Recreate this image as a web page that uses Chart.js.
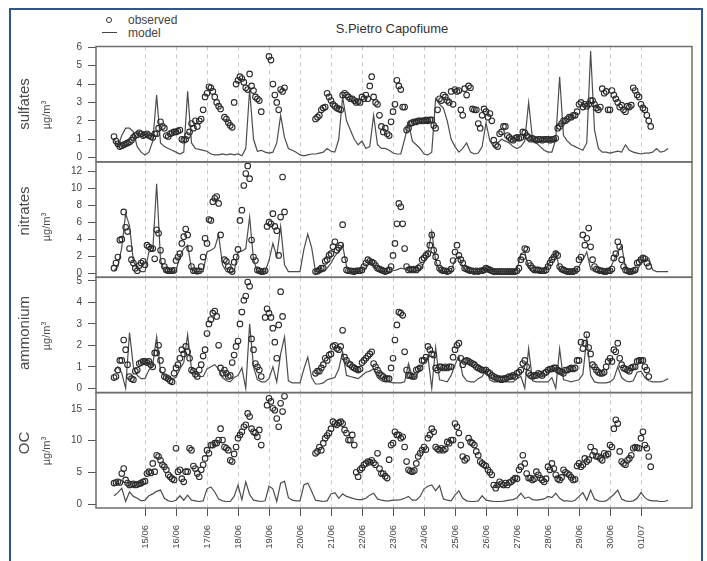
<!DOCTYPE html>
<html>
<head>
<meta charset="utf-8">
<script src="https://cdn.jsdelivr.net/npm/chart.js@4.4.0/dist/chart.umd.min.js"></script>
<style>
  body { margin: 0; width: 707px; height: 561px; overflow: hidden; position: relative; background: #fff;
         font-family: "Liberation Sans", Arial, sans-serif; color: #444; }
  canvas { position: absolute; left: 0; }
  .frame { position: absolute; left: 9px; top: 8px; width: 694px; height: 700px; box-sizing: border-box;
           border: 2px solid #2e5591; }
  .txt { position: absolute; white-space: nowrap; transform: translate(-50%, -50%); }
  .rot { position: absolute; white-space: nowrap; transform: translate(-50%, -50%) rotate(-90deg); }
  .name { font-size: 15px; color: #4a4a4a; }
  .unit { font-size: 11px; color: #4a4a4a; }
  .unit sup { font-size: 7px; }
</style>
</head>
<body>
<div class="frame"></div>
<div class="txt" style="left:392px;top:28px;font-size:13px;color:#333">S.Pietro Capofiume</div>
<div style="position:absolute;left:106px;top:17px;width:6px;height:6px;box-sizing:border-box;border:1px solid #333;border-radius:50%"></div>
<div style="position:absolute;left:102px;top:32px;width:15px;border-top:1.3px solid #444"></div>
<div style="position:absolute;left:128px;top:13px;font-size:12px">observed</div>
<div style="position:absolute;left:128px;top:26px;font-size:12px">model</div>

<script>
// one row per day; observations every 1.5 h, model every 3 h
const days = ['14/06', '15/06', '16/06', '17/06', '18/06', '19/06', '20/06', '21/06', '22/06',
              '23/06', '24/06', '25/06', '26/06', '27/06', '28/06', '29/06', '30/06', '01/07'];
const tickDays = days.slice(1);
const obsHours = [0, 1.5, 3, 4.5, 6, 7.5, 9, 10.5, 12, 13.5, 15, 16.5, 18, 19.5, 21, 22.5];
const modHours = [0, 3, 6, 9, 12, 15, 18, 21];
const _ = null;

const sulfObs = [
  [1.15, 0.9, 0.75, 0.6, 0.65, 0.7, 0.75, 0.8, 0.85, 0.95, 1.1, 1.2, 1.25, 1.35, 1.3, 1.2],
  [1.25, 1.3, 1.2, 1.15, 1.1, 1.3, 1.3, 1.6, 1.95, 1.7, 1.6, 1.2, 1.15, 1.3, 1.35, 1.4],
  [1.4, 1.45, 1.5, 1.0, 0.95, 1.0, 1.2, 1.4, 1.85, 1.6, 2.0, 1.7, 2.0, 2.1, 2.6, 3.3],
  [3.5, 3.85, 3.8, 3.6, 3.3, 3.0, 2.8, 2.65, _, 2.2, 2.1, 1.9, 1.75, 1.65, 3.0, 4.0],
  [4.2, 4.4, 4.3, 4.1, 3.8, 3.7, 4.55, 3.9, 3.65, 3.3, 3.2, 3.1, 2.5, _, _, _],
  [5.5, 5.3, 4.0, 3.4, 3.0, 2.6, 3.7, 3.6, 3.8, _, _, _, _, _, _, _],
  [_, _, _, _, _, _, _, _, 2.1, 2.2, 2.3, 2.6, 2.7, 2.75, 3.5, 3.3],
  [3.1, 2.9, 2.8, 2.7, 2.65, 2.6, 3.4, 3.5, 3.4, 3.3, 3.2, 3.2, 3.1, 3.0, 3.05, 3.0],
  [3.3, 3.2, 3.4, 3.2, 3.9, 4.4, 3.3, 3.0, 2.9, 2.3, 1.7, 1.4, 1.6, 1.3, 1.2, 1.95],
  [2.5, 2.9, 4.2, 3.9, 3.7, 2.75, 2.75, 1.5, 1.6, 1.85, 1.9, 1.95, 1.95, 2.0, 2.0, 2.0],
  [2.0, 2.05, 2.0, 2.05, 2.05, 1.75, 1.6, 2.6, 3.2, 3.1, 3.4, 3.3, 3.1, 3.0, 3.6, 2.9],
  [3.7, 3.6, 3.65, 2.6, 2.3, 3.75, 3.4, 3.9, 3.8, 2.65, 2.6, 2.6, 1.85, 1.6, 2.3, 2.65],
  [2.5, 2.2, 2.4, 2.0, 0.95, 0.7, 0.6, 1.3, 1.4, 1.7, 1.7, 1.2, 1.1, 1.0, 0.95, 1.05],
  [1.1, 1.05, 1.1, 1.4, 1.35, 1.2, 1.1, 1.0, 1.05, 1.0, 0.95, 1.0, 1.0, 0.95, 1.0, 1.0],
  [1.0, 0.95, 1.0, 1.0, 1.05, 1.6, 1.7, 1.85, 2.0, 2.0, 2.1, 2.2, 2.2, 2.3, 2.3, 2.5],
  [2.9, 3.0, 2.75, 2.9, 2.8, 2.9, 3.1, 3.1, 2.9, 2.7, 2.6, 2.75, 3.75, 3.5, 3.6, 2.6],
  [2.6, 3.65, 3.4, 3.2, 3.0, 2.75, 2.85, 2.6, 2.5, 2.8, 2.75, 2.85, 3.8, 3.65, 3.4, 3.3],
  [2.9, 2.7, 2.6, 2.3, 2.0, 1.7, _, _, _, _, _, _, _, _, _, _]
];
const sulfMod = [
  [1.0, 0.6, 1.2, 1.6, 1.6, 1.4, 0.6, 0.3],
  [0.15, 0.3, 0.9, 3.4, 0.8, 0.6, 0.5, 0.4],
  [0.3, 0.2, 0.3, 3.6, 0.8, 0.5, 0.45, 0.4],
  [0.35, 0.2, 0.15, 0.15, 0.2, 0.15, 0.2, 0.15],
  [0.2, 0.1, 0.5, 3.7, 1.0, 0.35, 0.4, 0.3],
  [0.25, 0.3, 0.8, 2.3, 1.1, 0.5, 0.4, 0.3],
  [0.15, 0.1, 0.15, 0.2, 0.2, 0.25, 0.3, 0.5],
  [0.35, 0.3, 1.0, 3.3, 2.0, 1.5, 1.0, 0.7],
  [0.9, 0.5, 0.6, 2.3, 0.7, 0.5, 0.5, 0.4],
  [0.25, 0.2, 0.2, 1.0, 1.9, 0.9, 0.7, 0.5],
  [0.2, 0.15, 0.3, 3.2, 2.9, 2.7, 2.0, 1.0],
  [0.6, 0.3, 0.5, 0.8, 0.3, 0.2, 0.25, 0.6],
  [1.9, 0.9, 0.6, 0.8, 1.0, 0.9, 0.8, 0.6],
  [0.5, 0.6, 0.9, 3.0, 1.0, 0.8, 0.6, 0.4],
  [0.3, 0.3, 1.0, 4.4, 1.2, 0.9, 0.7, 0.6],
  [0.5, 0.4, 0.8, 5.8, 1.5, 0.5, 0.3, 0.3],
  [0.25, 0.3, 0.35, 0.3, 0.7, 0.4, 0.3, 0.25],
  [0.2, 0.25, 0.25, 0.3, 0.5, 0.3, 0.35, 0.5]
];

const nitrObs = [
  [0.6, 1.2, 1.9, 3.9, 4.0, 7.2, 5.4, 4.9, 2.9, 1.6, 1.2, 0.6, 0.3, 0.9, 1.2, 1.4],
  [1.0, 3.3, 3.1, 2.9, 2.9, 1.7, 5.1, 4.7, 2.7, 1.4, 0.8, 0.4, 0.3, 0.3, 0.3, 0.35],
  [1.5, 1.9, 2.3, 3.5, 4.3, 5.2, 4.5, 2.9, 0.8, 0.3, 0.3, 0.25, 0.3, 0.8, 1.9, 4.1],
  [3.5, 6.3, 6.2, 8.4, 8.8, 9.0, 8.2, 4.5, _, 1.6, 1.4, 0.8, 0.4, 0.2, 1.3, 1.9],
  [2.8, 6.2, 7.4, 10.3, 11.7, 12.6, 11.1, 3.9, 1.9, 1.5, 0.4, 0.3, 0.2, 0.2, 0.3, 5.5],
  [6.0, 5.8, 7.0, 5.5, 5.0, 2.1, 6.6, 11.3, 7.2, _, _, _, _, _, _, _],
  [_, _, _, _, _, _, _, _, 0.2, 0.25, 0.4, 0.6, 0.6, 1.4, 1.6, 2.1],
  [2.3, 3.1, 3.7, 2.7, 3.0, 3.3, 5.7, 1.6, 0.4, 0.3, 0.3, 0.25, 0.2, 0.3, 0.3, 0.3],
  [0.4, 0.8, 1.2, 1.6, 1.4, 1.3, 1.2, 0.9, 0.6, 0.5, 0.4, 0.3, 0.2, 0.3, 0.4, 0.8],
  [2.1, 3.5, 5.8, 8.2, 7.8, 5.8, 2.9, 0.8, 0.4, 0.5, 0.4, 0.5, 0.4, 0.6, 0.8, 1.6],
  [1.8, 2.1, 2.3, 3.3, 4.5, 2.7, 1.95, 1.2, 0.6, 0.4, 0.3, 0.3, 0.2, 0.3, 0.5, 1.5],
  [2.5, 3.3, 2.1, 1.6, 1.2, 0.6, 0.5, 0.4, 0.3, 0.3, 0.2, 0.3, 0.2, 0.3, 0.3, 0.4],
  [0.6, 0.5, 0.4, 0.3, 0.2, 0.2, 0.2, 0.2, 0.2, 0.2, 0.2, 0.2, 0.2, 0.2, 0.2, 0.2],
  [0.3, 0.6, 1.6, 1.9, 2.9, 2.8, 1.2, 0.9, 0.6, 0.4, 0.4, 0.4, 0.3, 0.3, 0.3, 0.4],
  [0.8, 1.2, 1.6, 1.9, 2.3, 2.1, 0.8, 0.5, 0.4, 0.3, 0.2, 0.2, 0.2, 0.2, 0.3, 0.5],
  [1.6, 1.9, 4.5, 3.3, 4.1, 5.3, 3.1, 1.6, 0.8, 0.5, 0.4, 0.3, 0.3, 0.2, 0.2, 0.3],
  [0.3, 0.5, 1.8, 2.3, 3.7, 3.1, 1.6, 0.8, 0.4, 0.3, 0.2, 0.2, 0.3, 0.4, 1.2, 1.3],
  [1.6, 1.8, 1.7, 1.2, 0.8, _, _, _, _, _, _, _, _, _, _, _]
];
const nitrMod = [
  [0.3, 0.8, 3.0, 7.0, 5.6, 1.4, 0.5, 0.2],
  [0.2, 2.5, 2.6, 10.5, 1.6, 0.2, 0.2, 0.2],
  [0.3, 2.0, 2.9, 3.3, 0.5, 0.2, 0.2, 0.2],
  [2.5, 2.7, 3.0, 4.5, 1.0, 0.2, 0.2, 0.2],
  [2.5, 2.6, 2.9, 6.6, 1.6, 0.2, 0.2, 0.2],
  [1.5, 3.5, 2.0, 5.5, 1.0, 0.2, 0.2, 0.2],
  [0.2, 2.8, 4.6, 3.0, 0.2, 0.2, 0.2, 0.6],
  [1.2, 2.0, 2.6, 3.3, 0.8, 0.2, 0.2, 0.2],
  [0.3, 0.6, 1.3, 1.0, 0.3, 0.2, 0.2, 0.2],
  [0.3, 0.4, 0.6, 0.5, 0.3, 0.2, 0.3, 0.5],
  [1.2, 2.4, 4.9, 1.5, 0.3, 0.2, 0.2, 0.3],
  [1.6, 2.0, 0.8, 0.2, 0.2, 0.2, 0.2, 0.2],
  [0.5, 0.3, 0.2, 0.2, 0.2, 0.2, 0.2, 0.2],
  [0.5, 2.3, 2.5, 0.6, 0.2, 0.2, 0.2, 0.2],
  [1.0, 1.8, 2.6, 0.4, 0.2, 0.2, 0.2, 0.2],
  [0.8, 1.6, 2.5, 0.5, 0.2, 0.2, 0.2, 0.3],
  [0.6, 1.5, 2.5, 3.3, 0.6, 0.2, 0.2, 0.3],
  [1.2, 1.6, 1.8, 0.4, 0.2, 0.2, 0.2, 0.2]
];

const ammObs = [
  [0.5, 0.55, 0.85, 1.3, 1.3, 2.25, 1.8, 1.1, 0.55, 0.45, 0.4, 0.8, 0.85, 1.15, 1.2, 1.25],
  [1.25, 1.2, 1.25, 1.1, 1.0, 1.65, 1.65, 2.0, 1.3, 0.85, 0.55, 0.5, 0.45, 0.35, 0.3, 0.7],
  [0.95, 1.1, 1.4, 1.8, 1.6, 1.95, 1.7, 1.4, 0.85, 0.8, 0.65, 0.55, 0.85, 1.1, 1.5, 1.8],
  [2.55, 3.0, 3.2, 3.5, 3.6, 3.35, 2.0, 0.95, 0.7, 0.85, 0.7, 0.55, 0.6, 1.2, 1.55, 1.95],
  [2.2, 3.0, 3.55, 4.1, 4.3, 4.95, 4.75, 2.3, 1.8, 1.15, 1.0, 0.85, 0.55, _, 3.3, 3.7],
  [3.5, 3.3, 2.8, 2.15, 1.4, 2.95, 4.5, 3.35, _, _, _, _, _, _, _, _],
  [_, _, _, _, _, _, _, _, 0.7, 0.8, 0.8, 0.95, 1.1, 1.4, 1.3, 1.55],
  [1.6, 1.95, 2.0, 1.85, 1.8, 1.95, 2.7, 1.45, 1.3, 1.15, 1.1, 1.0, 0.95, 0.9, 0.85, 0.9],
  [1.2, 1.3, 1.4, 1.5, 1.6, 1.7, 1.15, 1.0, 0.85, 0.7, 0.6, 0.55, 0.45, 0.45, 0.45, 0.95],
  [1.4, 2.25, 2.95, 3.55, 3.5, 3.4, 1.7, 0.85, 0.6, 0.6, 0.55, 0.55, 0.85, 0.9, 0.95, 1.3],
  [1.3, 1.45, 1.95, 1.8, 1.6, 1.55, 0.95, 0.85, 1.0, 1.0, 0.95, 1.0, 0.95, 1.0, 1.0, 1.45],
  [1.8, 2.0, 2.1, 1.4, 1.1, 1.25, 1.3, 1.25, 1.2, 1.15, 1.1, 1.0, 0.95, 0.9, 0.85, 0.85],
  [0.85, 0.75, 0.7, 0.6, 0.55, 0.5, 0.45, 0.45, 0.4, 0.45, 0.45, 0.5, 0.55, 0.55, 0.6, 0.55],
  [0.7, 0.75, 0.85, 1.15, 1.3, 1.0, 0.7, 0.6, 0.55, 0.6, 0.6, 0.7, 0.65, 0.6, 0.7, 0.75],
  [0.85, 0.9, 0.9, 0.95, 0.95, 0.85, 0.8, 0.75, 0.7, 0.85, 0.85, 0.9, 0.95, 0.9, 0.95, 1.3],
  [1.3, 2.15, 1.85, 2.1, 2.5, 1.9, 1.6, 1.1, 1.0, 0.85, 0.75, 0.7, 0.7, 0.75, 1.0, 1.25],
  [1.4, 1.25, 1.8, 1.7, 2.1, 1.4, 1.1, 0.95, 0.9, 0.85, 0.8, 0.95, 1.0, 1.0, 1.25, 1.3],
  [1.3, 1.3, 1.0, 0.85, 0.55, _, _, _, _, _, _, _, _, _, _, _]
];
const ammMod = [
  [0.8, 1.0, 0.7, 0.0, 2.6, 1.0, 0.6, 0.45],
  [0.45, 0.85, 1.1, 2.4, 0.8, 0.6, 0.5, 0.45],
  [0.5, 0.9, 1.2, 2.5, 0.9, 0.7, 0.55, 0.55],
  [0.9, 1.0, 1.1, 0.9, 0.5, 0.35, 0.3, 0.5],
  [0.6, 0.95, 0.0, 3.0, 1.0, 0.4, 0.3, 0.3],
  [0.45, 1.0, 0.3, 1.6, 2.4, 0.35, 0.25, 0.25],
  [0.25, 0.9, 1.45, 0.5, 0.2, 0.2, 0.25, 0.4],
  [0.45, 0.5, 0.9, 1.7, 0.6, 0.55, 0.5, 0.45],
  [0.6, 0.75, 0.8, 0.9, 0.5, 0.35, 0.3, 0.3],
  [0.25, 0.25, 0.25, 0.3, 1.15, 0.5, 0.55, 0.95],
  [1.15, 1.5, 0.0, 1.9, 0.4, 0.35, 0.3, 0.6],
  [1.1, 1.5, 0.6, 0.35, 0.3, 0.3, 0.45, 0.55],
  [0.85, 0.4, 0.3, 0.3, 0.3, 0.3, 0.3, 0.3],
  [0.45, 0.55, 0.0, 1.85, 0.35, 0.3, 0.3, 0.3],
  [0.3, 0.5, 0.0, 1.85, 0.4, 0.35, 0.3, 0.35],
  [0.4, 0.65, 2.35, 0.6, 0.3, 0.25, 0.25, 0.25],
  [0.3, 0.45, 1.0, 0.5, 0.35, 0.3, 0.35, 0.75],
  [0.8, 0.5, 0.35, 0.3, 0.3, 0.3, 0.35, 0.45]
];

const ocObs = [
  [3.3, 3.4, 3.5, 3.4, 4.8, 5.6, 3.8, 3.3, 3.0, 3.1, 3.2, 3.0, 3.1, 3.2, 3.3, 3.5],
  [3.6, 4.8, 5.1, 4.9, 6.4, 5.1, 7.7, 7.5, 6.9, 6.2, 5.9, 5.4, 4.6, 4.3, 4.0, 3.8],
  [8.8, 5.1, 5.4, 4.0, 3.5, 5.1, 5.1, 8.8, 8.5, 6.0, 5.6, 4.8, 4.3, 5.4, 6.2, 7.2],
  [8.5, 8.0, 9.3, 9.3, 9.6, 9.6, 10.1, 11.9, 10.1, 9.0, 8.8, 8.5, 6.9, 6.7, 7.9, 9.0],
  [10.4, 10.9, 11.4, 12.2, 12.5, 14.3, 13.8, 11.9, 11.4, 11.2, 10.6, 11.7, 9.3, _, _, 15.6],
  [16.7, 16.2, 15.1, 14.8, 13.5, 12.2, 15.9, 14.6, 17.0, _, _, _, _, _, _, _],
  [_, _, _, _, _, _, _, _, 8.0, 8.3, 9.0, 8.5, 9.6, 10.4, 10.8, 11.2],
  [11.9, 13.0, 12.7, 12.5, 12.8, 13.0, 12.7, 11.7, 11.2, 10.1, 10.1, 10.9, 9.3, 5.0, 4.3, 5.4],
  [5.7, 6.2, 6.4, 6.7, 6.6, 6.9, 6.5, 6.2, 8.0, 5.6, 4.8, 4.8, 4.4, 4.1, 7.0, 9.3],
  [9.6, 11.4, 10.9, 10.9, 10.4, 10.6, 9.0, 6.7, 5.4, 5.2, 5.1, 5.3, 6.4, 7.5, 8.0, 8.5],
  [9.0, 8.6, 10.4, 10.9, 11.9, 11.4, 9.0, 8.7, 8.5, 8.8, 8.5, 8.7, 9.8, 9.6, 10.1, 10.1],
  [12.7, 12.2, 11.2, 9.3, 7.5, 6.9, 7.2, 10.4, 9.8, 9.6, 9.3, 8.3, 7.7, 6.7, 6.4, 6.2],
  [6.0, 5.4, 5.0, 4.6, 3.0, 2.5, 3.0, 3.5, 3.2, 3.0, 3.3, 3.0, 3.4, 3.5, 3.8, 4.1],
  [4.0, 5.4, 5.9, 7.7, 6.4, 4.8, 4.1, 4.1, 3.8, 4.0, 5.1, 4.6, 4.1, 3.8, 3.5, 4.0],
  [5.9, 5.4, 6.4, 5.6, 4.6, 4.0, 3.8, 4.2, 5.4, 5.0, 4.8, 4.6, 4.2, 3.8, 3.9, 6.0],
  [6.4, 5.9, 6.2, 7.2, 6.7, 7.0, 9.0, 7.7, 8.3, 7.5, 7.5, 7.2, 6.9, 8.0, 7.7, 7.9],
  [9.3, 9.0, 11.9, 13.3, 12.7, 8.3, 6.7, 6.4, 6.2, 6.9, 7.2, 7.7, 8.8, 9.0, 8.9, 8.8],
  [10.4, 11.4, 9.3, 8.8, 7.5, 5.9, _, _, _, _, _, _, _, _, _, _]
];
const ocMod = [
  [1.3, 1.8, 2.5, 0.4, 1.9, 1.2, 0.9, 0.5],
  [0.6, 1.3, 1.6, 2.0, 2.2, 0.9, 0.5, 0.4],
  [0.6, 1.3, 0.6, 1.4, 0.6, 0.5, 0.4, 0.5],
  [2.4, 2.7, 1.9, 0.8, 0.5, 0.4, 0.4, 1.2],
  [3.0, 0.7, 3.5, 1.5, 0.6, 0.5, 0.4, 0.5],
  [2.8, 2.4, 0.4, 3.3, 3.6, 1.0, 0.6, 0.5],
  [0.5, 3.0, 3.3, 2.0, 0.6, 0.5, 0.4, 0.5],
  [1.6, 1.8, 0.9, 1.6, 1.2, 1.0, 0.8, 0.7],
  [0.7, 0.9, 1.4, 1.7, 0.8, 0.6, 0.5, 0.5],
  [0.6, 0.6, 0.7, 0.9, 1.2, 0.6, 0.6, 1.2],
  [2.4, 2.8, 3.0, 2.1, 2.9, 0.8, 0.6, 0.5],
  [1.4, 2.1, 0.9, 0.5, 0.4, 0.4, 0.5, 1.3],
  [0.6, 0.5, 0.4, 0.4, 0.4, 0.5, 0.6, 0.7],
  [1.0, 1.7, 0.9, 1.1, 0.7, 0.6, 0.7, 0.8],
  [1.2, 1.0, 1.7, 0.9, 0.5, 0.5, 0.4, 0.6],
  [1.2, 1.8, 0.6, 2.2, 0.8, 0.5, 0.4, 0.5],
  [1.0, 1.5, 2.2, 0.8, 0.5, 0.4, 0.5, 0.9],
  [1.8, 1.0, 0.6, 0.5, 0.5, 0.4, 0.4, 0.6]
];

const sulfTicks = [0, 1, 2, 3, 4, 5, 6];
const nitrTicks = [0, 2, 4, 6, 8, 10, 12];
const ammTicks = [0, 1, 2, 3, 4, 5];
const ocTicks = [0, 5, 10, 15];

const panels = [
  { name: 'sulfates', obs: sulfObs, mod: sulfMod, ticks: sulfTicks, min: -0.23, max: 6.04,
    top: 46.5, bottom: 161.9, nameY: 104, unitY: 115 },
  { name: 'nitrates', obs: nitrObs, mod: nitrMod, ticks: nitrTicks, min: -0.47, max: 13.07,
    top: 161.9, bottom: 277.3, nameY: 211, unitY: 227 },
  { name: 'ammonium', obs: ammObs, mod: ammMod, ticks: ammTicks, min: -0.2, max: 5.17,
    top: 277.3, bottom: 392.6, nameY: 333, unitY: 336 },
  { name: 'OC', obs: ocObs, mod: ocMod, ticks: ocTicks, min: -0.63, max: 17.59,
    top: 392.6, bottom: 508, nameY: 443, unitY: 451 }
];

function toPoints(rows, hours) {
  const pts = [];
  rows.forEach((row, d) => row.forEach((v, s) => pts.push({ x: d + hours[s] / 24, y: v })));
  return pts;
}

// box around each panel
const panelBox = {
  id: 'panelBox',
  afterDraw(chart) {
    const { ctx, chartArea: a } = chart;
    ctx.save();
    ctx.strokeStyle = '#6e6e6e';
    ctx.lineWidth = 1.5;
    ctx.strokeRect(a.left, a.top, a.right - a.left, a.bottom - a.top);
    ctx.restore();
  }
};

const font = { family: '"Liberation Sans", Arial, sans-serif' };

panels.forEach((p, i) => {
  const last = i === panels.length - 1;
  const cTop = Math.floor(p.top) - 12;
  const cBottom = last ? 561 : Math.ceil(p.bottom) + 12;
  const xHeight = last ? 561 - p.bottom : 0;

  const canvas = document.createElement('canvas');
  canvas.width = 707;
  canvas.height = cBottom - cTop;
  canvas.style.top = cTop + 'px';
  document.body.appendChild(canvas);

  const name = document.createElement('div');
  name.className = 'rot name';
  name.style.left = '23px';
  name.style.top = p.nameY + 'px';
  name.textContent = p.name;
  document.body.appendChild(name);

  const unit = document.createElement('div');
  unit.className = 'rot unit';
  unit.style.left = '46px';
  unit.style.top = p.unitY + 'px';
  unit.innerHTML = 'µg/m<sup>3</sup>';
  document.body.appendChild(unit);

  new Chart(canvas, {
    type: 'line',
    data: {
      datasets: [
        {
          label: 'observed',
          data: toPoints(p.obs, obsHours),
          showLine: false,
          pointStyle: 'circle',
          pointRadius: 2.8,
          pointBorderWidth: 1.1,
          pointBorderColor: '#2b2b2b',
          pointBackgroundColor: 'rgba(0,0,0,0)'
        },
        {
          label: 'model',
          data: toPoints(p.mod, modHours),
          borderColor: '#4d4d4d',
          borderWidth: 1.2,
          pointRadius: 0,
          tension: 0
        }
      ]
    },
    options: {
      responsive: false,
      animation: false,
      events: [],
      layout: { padding: { left: 0, right: 15, top: p.top - cTop, bottom: cBottom - p.bottom - xHeight } },
      plugins: { legend: { display: false }, tooltip: { enabled: false } },
      scales: {
        x: {
          type: 'linear',
          min: -0.581,
          max: 18.645,
          afterBuildTicks: s => { s.ticks = tickDays.map(d => ({ value: days.indexOf(d) })); },
          afterFit: s => { s.height = xHeight; },
          grid: { color: '#c8c8c8', lineWidth: 1, drawTicks: last, tickLength: 8, tickColor: '#555', tickBorderDash: [] },
          border: { display: false, dash: [4, 4] },
          ticks: {
            display: last,
            autoSkip: false,
            minRotation: 90,
            maxRotation: 90,
            padding: 9,
            color: '#444',
            font: { ...font, size: 9.5 },
            callback: v => days[v]
          }
        },
        y: {
          min: p.min,
          max: p.max,
          afterBuildTicks: s => { s.ticks = p.ticks.map(v => ({ value: v })); },
          afterFit: s => { s.width = 96; },
          grid: { drawOnChartArea: false, tickLength: 8, tickColor: '#555' },
          border: { display: false },
          ticks: { padding: 6, color: '#444', font: { ...font, size: 10 } }
        }
      }
    },
    plugins: [panelBox]
  });
});
</script>
</body>
</html>
